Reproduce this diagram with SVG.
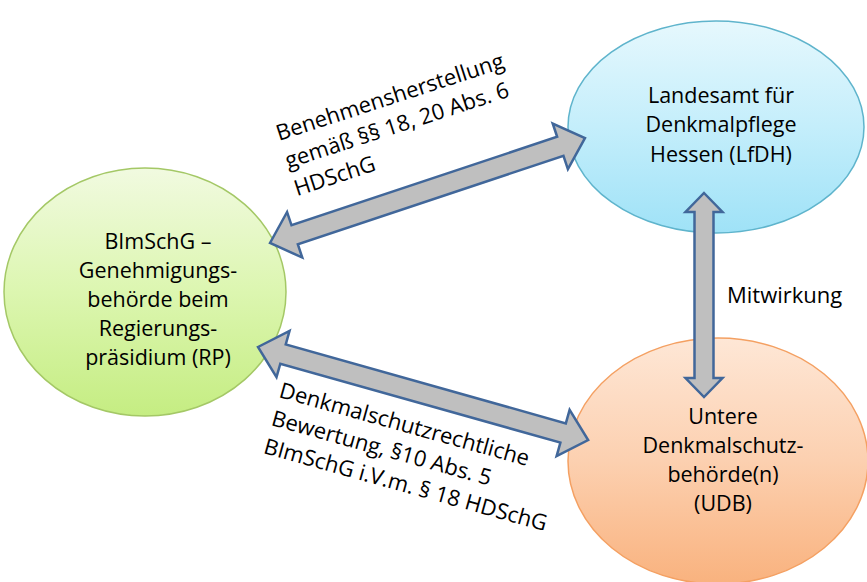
<svg xmlns="http://www.w3.org/2000/svg" width="867" height="582" viewBox="0 0 867 582">
<defs>
<linearGradient id="gGreen" x1="0" y1="0" x2="0" y2="1">
<stop offset="0" stop-color="#f1fae0"/>
<stop offset="0.5" stop-color="#dcf6b0"/>
<stop offset="1" stop-color="#c5ed82"/>
</linearGradient>
<linearGradient id="gBlue" x1="0" y1="0" x2="0" y2="1">
<stop offset="0" stop-color="#e6f8fd"/>
<stop offset="0.5" stop-color="#c4eefb"/>
<stop offset="1" stop-color="#9fe2f7"/>
</linearGradient>
<linearGradient id="gOrange" x1="0" y1="0" x2="0" y2="1">
<stop offset="0" stop-color="#fee7d6"/>
<stop offset="0.5" stop-color="#fcd0b0"/>
<stop offset="1" stop-color="#f9b27e"/>
</linearGradient>
</defs>
<style>
text { font-family: "Open Sans", "Liberation Sans", sans-serif; font-size: 21.5px; fill: #000; }
.c { text-anchor: middle; }
.lbl { font-size: 22px; }
.arrow { fill: #bfbfbf; stroke: #41679a; stroke-width: 2.5; stroke-linejoin: miter; }
</style>
<rect width="867" height="582" fill="#ffffff"/>

<g id="node-rp">
<ellipse cx="145" cy="292" rx="141" ry="124" fill="url(#gGreen)" stroke="#a4c866" stroke-width="1.5"/>
<text class="c" x="158" y="249">BImSchG –</text>
<text class="c" x="158" y="278">Genehmigungs-</text>
<text class="c" x="158" y="307">behörde beim</text>
<text class="c" x="158" y="336">Regierungs-</text>
<text class="c" x="158" y="365">präsidium (RP)</text>
</g>

<g id="node-lfdh">
<ellipse cx="716" cy="127" rx="148" ry="106" fill="url(#gBlue)" stroke="#5fb4cc" stroke-width="1.5"/>
<text class="c" x="721" y="103">Landesamt für</text>
<text class="c" x="721" y="132">Denkmalpflege</text>
<text class="c" x="721" y="162">Hessen (LfDH)</text>
</g>

<g id="node-udb">
<ellipse cx="718" cy="461" rx="150" ry="123" fill="url(#gOrange)" stroke="#f4a062" stroke-width="1.5"/>
<text class="c" x="723" y="424">Untere</text>
<text class="c" x="723" y="453">Denkmalschutz-</text>
<text class="c" x="723" y="482">behörde(n)</text>
<text class="c" x="723" y="511">(UDB)</text>
</g>

<g id="connectors">
<polygon class="arrow" transform="translate(270,243) rotate(-18.43)" points="0,0 26,-24 26,-10 306,-10 306,-24 332,0 306,24 306,10 26,10 26,24"/>
<polygon class="arrow" transform="translate(258,347) rotate(15.74)" points="0,0 26,-24 26,-10 317,-10 317,-24 343,0 317,24 317,10 26,10 26,24"/>
<polygon class="arrow" transform="translate(704,193) rotate(90)" points="0,0 19,-18.5 19,-9.5 185,-9.5 185,-18.5 204,0 185,18.5 185,9.5 19,9.5 19,18.5"/>
</g>

<g id="labels">
<g transform="translate(279,141) rotate(-18)">
<text class="lbl" x="0" y="0">Benehmensherstellung</text>
<text class="lbl" x="0" y="29">gemäß §§ 18, 20 Abs. 6</text>
<text class="lbl" x="0" y="58">HDSchG</text>
</g>
<g transform="translate(278,397) rotate(15.5)">
<text class="lbl" x="0" y="0">Denkmalschutzrechtliche</text>
<text class="lbl" x="0" y="29">Bewertung, §10 Abs. 5</text>
<text class="lbl" x="0" y="58">BImSchG i.V.m. § 18 HDSchG</text>
</g>
<text class="lbl" x="727" y="303">Mitwirkung</text>
</g>
</svg>
